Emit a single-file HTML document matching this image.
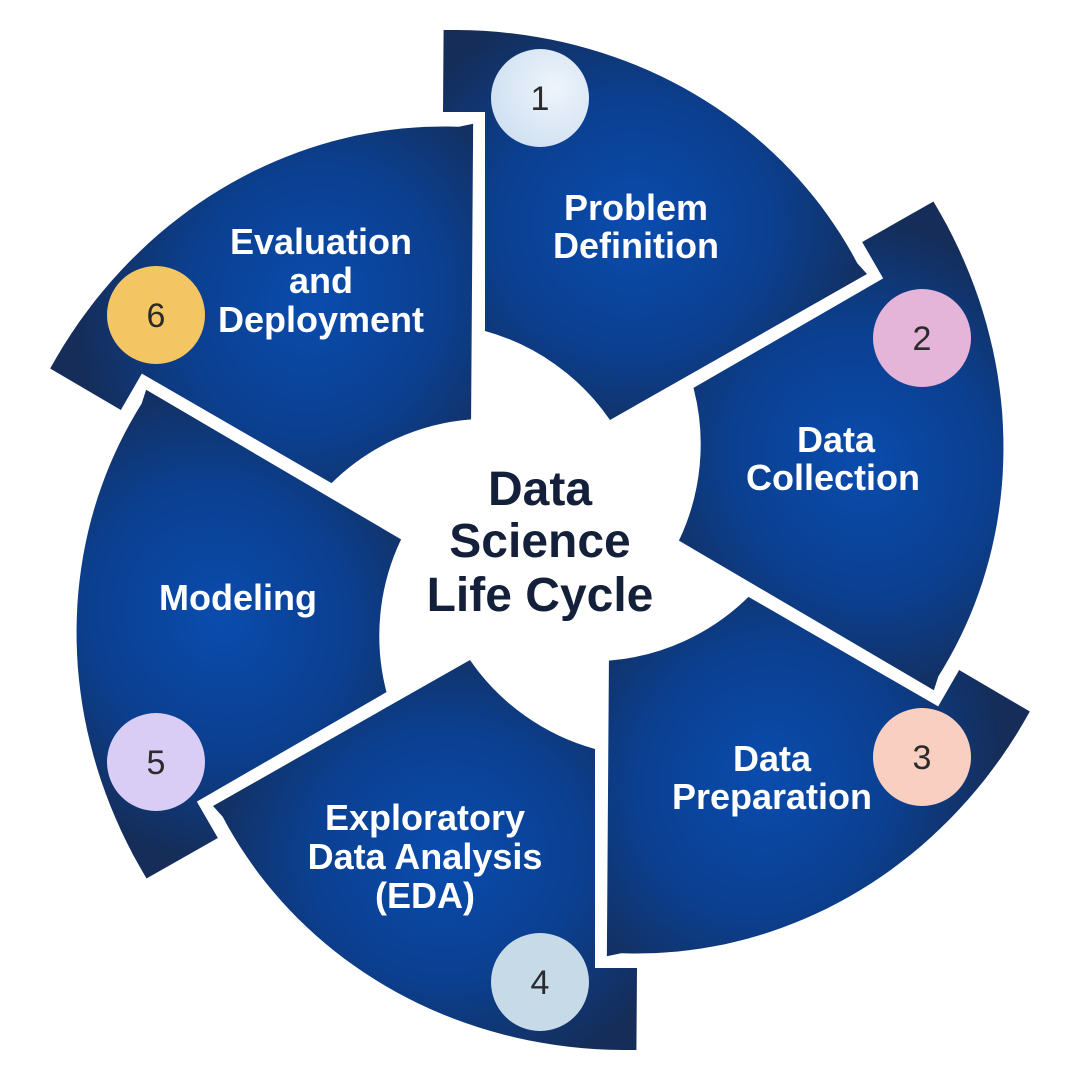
<!DOCTYPE html>
<html><head><meta charset="utf-8"><style>
html,body{margin:0;padding:0;background:#fff;}
svg{display:block}
.lbl{font-family:"Liberation Sans",sans-serif;font-weight:bold;fill:#fff;font-size:36px;text-anchor:middle}
.num{font-family:"Liberation Sans",sans-serif;fill:#2b2b2b;font-size:34px;text-anchor:middle}
.ctr{font-family:"Liberation Sans",sans-serif;font-weight:bold;fill:#14203a;font-size:48px;text-anchor:middle}
</style></head><body>
<svg width="1080" height="1080" viewBox="0 0 1080 1080" xmlns="http://www.w3.org/2000/svg">
<defs>
<radialGradient id="g" cx="0.45" cy="0.5" r="0.6">
<stop offset="0" stop-color="#0a4cae"/>
<stop offset="0.55" stop-color="#0b3f8f"/>
<stop offset="1" stop-color="#152d58"/>
</radialGradient>
<path id="seg" fill="url(#g)" d="M443 29 L443 112 L485 112 L485 331 A224 224 0 0 1 610 420 L867 274 L857 263 Z"/>
</defs>
<g id="segs">
<use href="#seg"/>
<use href="#seg" transform="rotate(60 540 540)"/>
<use href="#seg" transform="rotate(120 540 540)"/>
<use href="#seg" transform="rotate(180 540 540)"/>
<use href="#seg" transform="rotate(240 540 540)"/>
<use href="#seg" transform="rotate(300 540 540)"/>
</g>
<script>
(function(){
var cx=540,cy=540,pts=[];
var a0=-100.7*Math.PI/180,a1=-41.1*Math.PI/180,N=40;
for(var i=0;i<=N;i++){var t=i/N;var a=a0+(a1-a0)*t;var r=519-98*t+2*Math.sin(Math.PI*t);
pts.push((cx+r*Math.cos(a)).toFixed(1)+' '+(cy+r*Math.sin(a)).toFixed(1));}
var d='M'+pts[0]+' '+pts.slice(1).map(function(p){return 'L'+p}).join(' ')+' L867 274 L610 420 A224 224 0 0 0 485 331 L485 112 L443 112 Z';
document.getElementById('seg').setAttribute('d',d);
})();
</script>
<defs>
<radialGradient id="c1" cx="0.65" cy="0.4" r="0.7"><stop offset="0" stop-color="#eef4fb"/><stop offset="1" stop-color="#cfe0f2"/></radialGradient>
</defs>
<circle cx="540" cy="98" r="49" fill="url(#c1)"/>
<circle cx="922" cy="338" r="49" fill="#e5b4d9"/>
<circle cx="922" cy="757" r="49" fill="#f9cfc1"/>
<circle cx="540" cy="982" r="49" fill="#c6dae8"/>
<circle cx="156" cy="762" r="49" fill="#d9cdf6"/>
<circle cx="156" cy="315" r="49" fill="#f4c563"/>
<text class="num" x="540" y="110">1</text>
<text class="num" x="922" y="350">2</text>
<text class="num" x="922" y="769">3</text>
<text class="num" x="540" y="994">4</text>
<text class="num" x="156" y="774">5</text>
<text class="num" x="156" y="327">6</text>
<text class="lbl" x="636" y="220">Problem</text>
<text class="lbl" x="636" y="258">Definition</text>
<text class="lbl" x="836" y="452">Data</text>
<text class="lbl" x="833" y="490">Collection</text>
<text class="lbl" x="772" y="771">Data</text>
<text class="lbl" x="772" y="809">Preparation</text>
<text class="lbl" x="425" y="830">Exploratory</text>
<text class="lbl" x="425" y="869">Data Analysis</text>
<text class="lbl" x="425" y="908">(EDA)</text>
<text class="lbl" x="238" y="610">Modeling</text>
<text class="lbl" x="321" y="254">Evaluation</text>
<text class="lbl" x="321" y="293">and</text>
<text class="lbl" x="321" y="332">Deployment</text>
<text class="ctr" x="540" y="505">Data</text>
<text class="ctr" x="540" y="557">Science</text>
<text class="ctr" x="540" y="611">Life Cycle</text>
</svg>
</body></html>
